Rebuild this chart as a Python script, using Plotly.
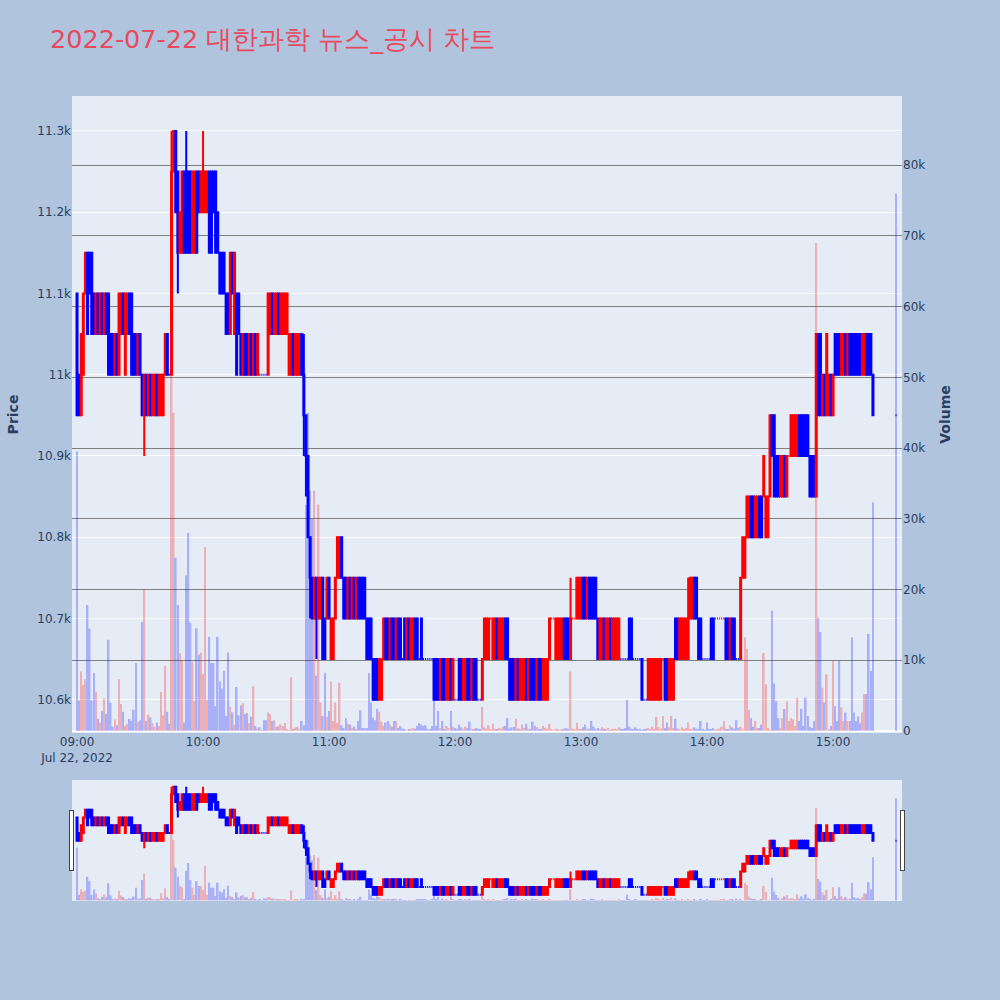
import pandas as pd
import plotly.graph_objects as go
from plotly.subplots import make_subplots

TITLE = "2022-07-22 대한과학 뉴스_공시 차트"

# minute bars from 09:00 to 15:19, plus the closing auction at 15:30
START = "2022-07-22 09:00"
N_MINUTES = 380
CLOSE_AUCTION = "2022-07-22 15:30"
X_RANGE = ["2022-07-22 08:57:36", "2022-07-22 15:32:50"]

OPEN = [
    11100, 11000, 10950, 11000, 11100, 11150, 11150, 11150, 11100, 11050,
    11100, 11050, 11100, 11050, 11100, 11100, 11050, 11050, 11000, 11050,
    11000, 11050, 11100, 11000, 11050, 11100, 11100, 11050, 11050, 11000,
    11050, 11000, 10950, 11000, 10950, 11000, 10950, 10950, 11000, 10950,
    10950, 10950, 11000, 11050, 11000, 11000, 11250, 11300, 11250, 11150,
    11150, 11250, 11250, 11250, 11250, 11150, 11150, 11250, 11250, 11200,
    11200, 11200, 11200, 11250, 11250, 11250, 11250, 11200, 11150, 11150,
    11150, 11100, 11100, 11050, 11150, 11050, 11100, 11100, 11050, 11000,
    11050, 11050, 11000, 11050, 11000, 11050, 11000, 11000, 11000, 11000,
    11000, 11000, 11050, 11100, 11050, 11050, 11100, 11050, 11050, 11050,
    11050, 11000, 11000, 11050, 11000, 11000, 11000, 11050, 11000, 10950,
    10900, 10800, 10750, 10700, 10750, 10700, 10700, 10750, 10700, 10700,
    10750, 10650, 10650, 10700, 10750, 10750, 10800, 10750, 10750, 10700,
    10750, 10700, 10750, 10700, 10750, 10750, 10750, 10750, 10700, 10700,
    10700, 10650, 10650, 10650, 10600, 10600, 10650, 10700, 10700, 10650,
    10700, 10700, 10650, 10700, 10700, 10650, 10700, 10650, 10700, 10650,
    10650, 10700, 10700, 10650, 10700, 10650, 10650, 10650, 10650, 10650,
    10650, 10650, 10650, 10600, 10650, 10650, 10600, 10600, 10650, 10600,
    10600, 10600, 10650, 10650, 10600, 10600, 10650, 10650, 10600, 10650,
    10650, 10600, 10600, 10600, 10650, 10650, 10650, 10700, 10650, 10650,
    10700, 10650, 10650, 10650, 10700, 10700, 10650, 10650, 10650, 10600,
    10650, 10600, 10600, 10600, 10650, 10600, 10650, 10650, 10650, 10600,
    10650, 10650, 10600, 10600, 10600, 10650, 10700, 10700, 10650, 10650,
    10650, 10650, 10700, 10700, 10700, 10650, 10700, 10700, 10700, 10700,
    10700, 10750, 10750, 10700, 10750, 10750, 10750, 10750, 10700, 10650,
    10650, 10700, 10650, 10650, 10700, 10650, 10650, 10650, 10650, 10650,
    10650, 10650, 10650, 10700, 10700, 10650, 10650, 10650, 10650, 10650,
    10600, 10600, 10600, 10600, 10600, 10600, 10600, 10600, 10600, 10650,
    10650, 10650, 10600, 10600, 10600, 10700, 10700, 10650, 10650, 10650,
    10650, 10650, 10700, 10700, 10750, 10750, 10700, 10700, 10650, 10650,
    10650, 10650, 10700, 10700, 10700, 10700, 10700, 10700, 10700, 10700,
    10700, 10650, 10700, 10700, 10650, 10650, 10650, 10750, 10750, 10800,
    10800, 10850, 10850, 10800, 10800, 10850, 10850, 10850, 10800, 10800,
    10850, 10950, 10950, 10900, 10900, 10850, 10850, 10900, 10850, 10900,
    10900, 10900, 10900, 10900, 10950, 10950, 10950, 10950, 10950, 10900,
    10900, 10900, 10850, 11050, 11050, 10950, 11000, 10950, 10950, 11000,
    10950, 11050, 11050, 11050, 11000, 11000, 11050, 11000, 11050, 11050,
    11050, 11050, 11050, 11050, 11000, 11000, 11050, 11050, 11050, 11000,
    10950,
]

HIGH = [
    11100, 11000, 11050, 11100, 11150, 11150, 11150, 11150, 11100, 11100,
    11100, 11100, 11100, 11100, 11100, 11100, 11050, 11050, 11050, 11050,
    11100, 11100, 11100, 11100, 11100, 11100, 11100, 11050, 11050, 11050,
    11050, 11000, 11000, 11000, 11000, 11000, 11000, 11000, 11000, 11000,
    11000, 11000, 11050, 11050, 11000, 11300, 11300, 11300, 11250, 11200,
    11250, 11250, 11300, 11250, 11250, 11250, 11250, 11250, 11250, 11250,
    11300, 11250, 11250, 11250, 11250, 11250, 11250, 11200, 11150, 11150,
    11150, 11100, 11100, 11150, 11150, 11150, 11100, 11100, 11050, 11050,
    11050, 11050, 11050, 11050, 11050, 11050, 11050, 11000, 11000, 11000,
    11000, 11100, 11100, 11100, 11100, 11100, 11100, 11100, 11100, 11100,
    11100, 11050, 11050, 11050, 11050, 11050, 11050, 11050, 11050, 10950,
    10900, 10800, 10750, 10750, 10750, 10750, 10750, 10750, 10700, 10750,
    10750, 10700, 10700, 10750, 10800, 10800, 10800, 10750, 10750, 10750,
    10750, 10750, 10750, 10750, 10750, 10750, 10750, 10750, 10700, 10700,
    10700, 10650, 10650, 10650, 10650, 10650, 10700, 10700, 10700, 10700,
    10700, 10700, 10700, 10700, 10700, 10650, 10700, 10700, 10700, 10700,
    10700, 10700, 10700, 10650, 10700, 10650, 10650, 10650, 10650, 10650,
    10650, 10650, 10650, 10650, 10650, 10650, 10650, 10650, 10650, 10650,
    10600, 10600, 10650, 10650, 10650, 10650, 10650, 10650, 10650, 10650,
    10650, 10600, 10600, 10650, 10700, 10700, 10700, 10700, 10700, 10700,
    10700, 10700, 10700, 10700, 10700, 10700, 10650, 10650, 10650, 10650,
    10650, 10650, 10650, 10650, 10650, 10650, 10650, 10650, 10650, 10650,
    10650, 10650, 10650, 10650, 10650, 10700, 10700, 10700, 10700, 10700,
    10700, 10700, 10700, 10700, 10700, 10750, 10700, 10700, 10750, 10750,
    10750, 10750, 10750, 10750, 10750, 10750, 10750, 10750, 10700, 10700,
    10700, 10700, 10700, 10700, 10700, 10700, 10700, 10700, 10700, 10650,
    10650, 10650, 10650, 10700, 10700, 10650, 10650, 10650, 10650, 10650,
    10600, 10600, 10650, 10650, 10650, 10650, 10650, 10650, 10650, 10650,
    10650, 10650, 10650, 10650, 10650, 10700, 10700, 10700, 10700, 10700,
    10700, 10750, 10750, 10750, 10750, 10750, 10700, 10700, 10650, 10650,
    10650, 10650, 10700, 10700, 10700, 10700, 10700, 10700, 10700, 10700,
    10700, 10700, 10700, 10700, 10650, 10650, 10750, 10800, 10800, 10850,
    10850, 10850, 10850, 10850, 10850, 10850, 10850, 10900, 10850, 10850,
    10950, 10950, 10950, 10900, 10900, 10900, 10900, 10900, 10900, 10900,
    10950, 10950, 10950, 10950, 10950, 10950, 10950, 10950, 10950, 10900,
    10900, 10900, 11050, 11050, 11050, 11000, 11000, 11050, 11000, 11000,
    11000, 11050, 11050, 11050, 11050, 11050, 11050, 11050, 11050, 11050,
    11050, 11050, 11050, 11050, 11050, 11050, 11050, 11050, 11050, 11000,
    10950,
]

LOW = [
    10950, 10950, 10950, 11000, 11100, 11050, 11100, 11050, 11050, 11050,
    11050, 11050, 11050, 11050, 11050, 11000, 11000, 11000, 11000, 11000,
    11000, 11050, 11050, 11000, 11050, 11050, 11000, 11000, 11000, 11000,
    11000, 10950, 10900, 10950, 10950, 10950, 10950, 10950, 10950, 10950,
    10950, 10950, 11000, 11000, 11000, 11000, 11250, 11200, 11100, 11150,
    11150, 11150, 11150, 11150, 11150, 11150, 11150, 11150, 11200, 11200,
    11200, 11200, 11200, 11150, 11150, 11200, 11150, 11150, 11100, 11100,
    11100, 11050, 11050, 11050, 11100, 11050, 11000, 11050, 11000, 11000,
    11000, 11000, 11000, 11000, 11000, 11000, 11000, 11000, 11000, 11000,
    11000, 11000, 11050, 11050, 11050, 11050, 11050, 11050, 11050, 11050,
    11050, 11000, 11000, 11000, 11000, 11000, 11000, 11000, 10900, 10850,
    10800, 10700, 10700, 10700, 10650, 10700, 10700, 10650, 10650, 10700,
    10700, 10650, 10650, 10700, 10750, 10750, 10750, 10700, 10700, 10700,
    10700, 10700, 10700, 10700, 10700, 10700, 10700, 10700, 10650, 10650,
    10650, 10600, 10600, 10600, 10600, 10600, 10650, 10650, 10650, 10650,
    10650, 10650, 10650, 10650, 10650, 10650, 10650, 10650, 10650, 10650,
    10650, 10650, 10650, 10650, 10650, 10650, 10650, 10650, 10650, 10650,
    10600, 10600, 10600, 10600, 10600, 10600, 10600, 10600, 10600, 10600,
    10600, 10600, 10600, 10600, 10600, 10600, 10600, 10600, 10600, 10600,
    10600, 10600, 10600, 10600, 10650, 10650, 10650, 10700, 10650, 10650,
    10650, 10650, 10650, 10650, 10650, 10650, 10600, 10600, 10600, 10600,
    10600, 10600, 10600, 10600, 10600, 10600, 10600, 10600, 10600, 10600,
    10600, 10600, 10600, 10600, 10600, 10650, 10700, 10700, 10650, 10650,
    10650, 10650, 10650, 10650, 10650, 10650, 10700, 10700, 10700, 10700,
    10700, 10700, 10700, 10700, 10700, 10700, 10700, 10700, 10650, 10650,
    10650, 10650, 10650, 10650, 10650, 10650, 10650, 10650, 10650, 10650,
    10650, 10650, 10650, 10650, 10650, 10650, 10650, 10650, 10650, 10600,
    10600, 10600, 10600, 10600, 10600, 10600, 10600, 10600, 10600, 10650,
    10600, 10600, 10600, 10600, 10600, 10650, 10650, 10650, 10650, 10650,
    10650, 10650, 10700, 10700, 10700, 10700, 10650, 10650, 10650, 10650,
    10650, 10650, 10650, 10650, 10700, 10700, 10700, 10700, 10700, 10650,
    10650, 10650, 10650, 10650, 10650, 10650, 10650, 10750, 10750, 10800,
    10800, 10800, 10800, 10800, 10800, 10800, 10800, 10850, 10800, 10800,
    10850, 10900, 10850, 10850, 10850, 10850, 10850, 10850, 10850, 10900,
    10900, 10900, 10900, 10900, 10900, 10900, 10900, 10900, 10900, 10850,
    10850, 10850, 10850, 10950, 10950, 10950, 10950, 10950, 10950, 10950,
    10950, 11000, 11000, 11000, 11000, 11000, 11000, 11000, 11000, 11000,
    11000, 11000, 11000, 11000, 11000, 11000, 11000, 11000, 11000, 10950,
    10950,
]

CLOSE = [
    10950, 10950, 11050, 11100, 11150, 11050, 11100, 11050, 11050, 11100,
    11050, 11100, 11050, 11100, 11050, 11000, 11000, 11000, 11050, 11000,
    11100, 11100, 11050, 11100, 11100, 11050, 11000, 11000, 11000, 11050,
    11000, 10950, 11000, 10950, 11000, 10950, 11000, 11000, 10950, 11000,
    11000, 11000, 11050, 11000, 11000, 11250, 11300, 11200, 11150, 11200,
    11250, 11150, 11150, 11150, 11150, 11250, 11250, 11150, 11200, 11250,
    11250, 11250, 11250, 11150, 11150, 11200, 11150, 11150, 11100, 11100,
    11100, 11050, 11050, 11150, 11100, 11150, 11000, 11050, 11000, 11050,
    11000, 11000, 11050, 11000, 11050, 11000, 11050, 11000, 11000, 11000,
    11000, 11100, 11100, 11050, 11100, 11100, 11050, 11100, 11100, 11100,
    11100, 11050, 11050, 11000, 11050, 11050, 11050, 11000, 10950, 10900,
    10800, 10750, 10700, 10750, 10700, 10750, 10750, 10650, 10650, 10750,
    10700, 10700, 10700, 10750, 10800, 10800, 10750, 10700, 10700, 10750,
    10700, 10750, 10700, 10750, 10700, 10700, 10700, 10700, 10650, 10650,
    10650, 10600, 10600, 10600, 10650, 10650, 10700, 10650, 10650, 10700,
    10650, 10650, 10700, 10650, 10650, 10650, 10650, 10700, 10650, 10700,
    10700, 10650, 10650, 10650, 10650, 10650, 10650, 10650, 10650, 10650,
    10600, 10600, 10600, 10650, 10600, 10600, 10650, 10650, 10600, 10650,
    10600, 10600, 10600, 10600, 10650, 10650, 10600, 10600, 10650, 10600,
    10600, 10600, 10600, 10650, 10700, 10700, 10700, 10700, 10700, 10700,
    10650, 10700, 10700, 10700, 10650, 10650, 10600, 10600, 10600, 10650,
    10600, 10650, 10650, 10650, 10600, 10650, 10600, 10600, 10600, 10650,
    10600, 10600, 10650, 10650, 10650, 10700, 10700, 10700, 10700, 10700,
    10700, 10700, 10650, 10650, 10650, 10700, 10700, 10700, 10750, 10750,
    10750, 10700, 10700, 10750, 10700, 10700, 10700, 10700, 10650, 10700,
    10700, 10650, 10700, 10700, 10650, 10700, 10700, 10700, 10700, 10650,
    10650, 10650, 10650, 10650, 10650, 10650, 10650, 10650, 10650, 10600,
    10600, 10600, 10650, 10650, 10650, 10650, 10650, 10650, 10650, 10650,
    10600, 10600, 10650, 10650, 10650, 10650, 10650, 10700, 10700, 10700,
    10700, 10700, 10750, 10750, 10700, 10700, 10650, 10650, 10650, 10650,
    10650, 10650, 10650, 10650, 10700, 10700, 10700, 10700, 10700, 10650,
    10650, 10700, 10650, 10650, 10650, 10650, 10750, 10800, 10800, 10850,
    10850, 10800, 10800, 10850, 10850, 10800, 10800, 10900, 10850, 10850,
    10950, 10900, 10850, 10850, 10850, 10900, 10900, 10850, 10900, 10900,
    10950, 10950, 10950, 10950, 10900, 10900, 10900, 10900, 10900, 10850,
    10850, 10850, 11050, 10950, 10950, 11000, 10950, 11050, 11000, 10950,
    11000, 11000, 11000, 11000, 11050, 11050, 11000, 11050, 11000, 11000,
    11000, 11000, 11000, 11000, 11050, 11050, 11000, 11000, 11000, 10950,
    10950,
]

VOLUME = [
    39500, 4300, 8400, 6500, 7300, 17800, 14500, 4300, 8200, 5500,
    1700, 1200, 2800, 4600, 2400, 12900, 4000, 600, 1600, 800,
    7300, 3800, 2700, 700, 1000, 1700, 1400, 3000, 9600, 1300,
    1500, 15400, 20000, 1400, 2300, 1900, 1100, 600, 1200, 700,
    5500, 2200, 9200, 2700, 1000, 52000, 45000, 24500, 17800, 11000,
    10000, 1200, 22000, 28000, 15300, 9800, 4200, 14500, 10800, 11100,
    8000, 26000, 4400, 13300, 9600, 9600, 3500, 13300, 7000, 6000,
    8500, 2100, 11100, 3400, 2600, 900, 6200, 2200, 3600, 3900,
    2400, 2500, 1100, 2000, 6300, 700, 300, 500, 100, 1500,
    1500, 2600, 2400, 1400, 1500, 600, 600, 900, 700, 1100,
    200, 100, 7600, 200, 500, 600, 300, 1400, 800, 32000,
    45000, 34000, 30000, 34000, 7800, 32000, 4000, 2100, 8200, 2000,
    2800, 7000, 1400, 4000, 1100, 6800, 800, 400, 1800, 1000,
    900, 400, 600, 200, 1400, 2900, 400, 400, 400, 8200,
    4000, 1900, 1500, 3100, 2700, 1300, 700, 1200, 1400, 900,
    600, 1400, 1400, 400, 700, 300, 200, 100, 200, 300,
    400, 300, 700, 1100, 900, 700, 800, 300, 200, 700,
    6100, 700, 2800, 400, 1400, 200, 700, 400, 2800, 600,
    400, 300, 900, 500, 300, 600, 400, 1300, 300, 200,
    400, 300, 200, 3400, 500, 300, 800, 200, 1000, 300,
    200, 400, 300, 600, 700, 1800, 300, 500, 600, 1700,
    300, 200, 900, 400, 1000, 300, 200, 1300, 700, 500,
    300, 200, 700, 400, 300, 1000, 200, 100, 300, 200,
    100, 200, 300, 400, 200, 8400, 300, 200, 1100, 300,
    200, 500, 900, 300, 200, 1400, 600, 300, 400, 200,
    500, 300, 200, 400, 100, 200, 300, 200, 500, 300,
    200, 400, 4400, 600, 300, 200, 500, 200, 300, 100,
    200, 300, 400, 200, 600, 300, 2000, 500, 300, 2100,
    400, 1200, 500, 2100, 400, 1700, 300, 200, 500, 300,
    400, 1200, 200, 300, 500, 300, 200, 1400, 300, 100,
    1200, 300, 200, 400, 100, 200, 300, 600, 1400, 300,
    200, 800, 500, 300, 1500, 400, 600, 200, 13200, 11600,
    3000, 1800, 600, 1400, 400, 400, 900, 11000, 6600, 400,
    100, 17000, 6700, 4200, 1800, 400, 1800, 3100, 4200, 1400,
    1800, 1600, 700, 4700, 1400, 3100, 700, 4700, 2100, 600,
    400, 1400, 69000, 16000, 14000, 6100, 4000, 8000, 200, 700,
    9900, 3500, 1400, 9900, 3300, 1400, 2600, 1400, 1400, 13200,
    2600, 1400, 2100, 1100, 2600, 5200, 5200, 13700, 8500, 32300,
    76000,
]

UP_COLOR = "red"
DOWN_COLOR = "blue"
FONT = "DejaVu Sans"

times = list(pd.date_range(START, periods=N_MINUTES, freq="min")) + [pd.Timestamp(CLOSE_AUCTION)]

# volume colour follows the candle direction (same rule plotly uses for dojis)
vol_colors = []
prev_close = None
rising = True
for o, c in zip(OPEN, CLOSE):
    if c != o:
        rising = c > o
    elif prev_close is not None and c != prev_close:
        rising = c > prev_close
    prev_close = c
    vol_colors.append(UP_COLOR if rising else DOWN_COLOR)

fig = make_subplots(specs=[[{"secondary_y": True}]])

fig.add_trace(
    go.Candlestick(
        x=times, open=OPEN, high=HIGH, low=LOW, close=CLOSE,
        increasing=dict(line=dict(color=UP_COLOR), fillcolor=UP_COLOR),
        decreasing=dict(line=dict(color=DOWN_COLOR), fillcolor=DOWN_COLOR),
        name="Price", showlegend=False,
    ),
    secondary_y=False,
)

fig.add_trace(
    go.Bar(
        x=times, y=VOLUME, marker=dict(color=vol_colors, line=dict(width=0)),
        opacity=0.25, name="Volume", showlegend=False,
    ),
    secondary_y=True,
)

fig.update_layout(
    width=1000, height=1000,
    paper_bgcolor="lightsteelblue",
    font=dict(family=FONT, size=12),
    title=dict(text=TITLE, font=dict(family=FONT, size=25.5, color="#E84A5F")),
    margin=dict(l=72, r=98, t=96, b=100),
    showlegend=False,
    bargap=0.2,
)
fig.update_xaxes(domain=[0, 1], range=X_RANGE,
                 rangeslider=dict(visible=True, range=X_RANGE), type="date")
fig.update_yaxes(title_text="<b>Price</b>", range=[10559, 11343], secondary_y=False)
fig.update_yaxes(title_text="<b>Volume</b>", range=[-300, 89800], showgrid=True,
                 gridcolor="gray", secondary_y=True)

fig.write_html("out.html", config={"displayModeBar": False},
               post_script="document.body.style.margin='0px';")
